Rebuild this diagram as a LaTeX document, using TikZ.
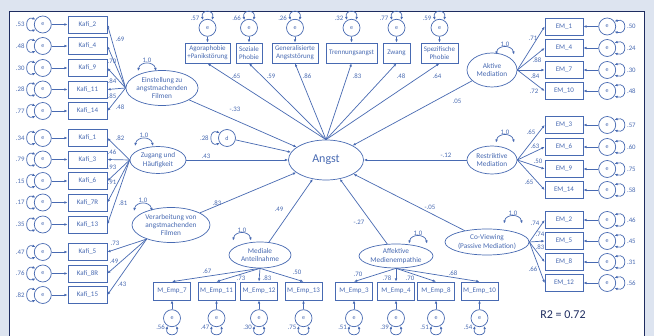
\documentclass[tikz,border=0pt]{standalone}
\usepackage{fontspec}
\setmainfont{Carlito}
\usetikzlibrary{shapes.geometric,arrows.meta,positioning}
\definecolor{semblue}{RGB}{72,106,178}
\definecolor{framenavy}{RGB}{30,44,96}
\definecolor{slidebg}{RGB}{221,228,240}
\tikzset{>={Latex[length=3.2pt,width=2.6pt]}}
\tikzset{
  ind/.style={draw,rectangle,align=center,minimum width=39pt,minimum height=17pt,inner sep=1pt,font=\fontsize{7}{8}\selectfont},
  err/.style={draw,circle,minimum size=17pt,inner sep=0pt,font=\fontsize{6}{7}\selectfont},
  lat/.style={draw,ellipse,align=center,inner sep=0pt,font=\fontsize{7.3}{8.2}\selectfont},
  lbl/.style={inner sep=0.5pt,font=\fontsize{6.8}{7}\selectfont},
}
% variance loop above a latent: node, x offset, y offset, label name
\newcommand{\latloop}[4]{%
  \draw[<->] ([shift={(#2-9,#3)}]#1.north) .. controls +(2,-10) and +(-2,-10) .. ([shift={(#2+9,#3)}]#1.north)
    node[lbl,midway,above] (#4) {1.0};%
}

\begin{document}
\begin{tikzpicture}[x=1pt,y=-1pt,color=semblue,line width=0.7pt]
\useasboundingbox (0,0) rectangle (654,336);
\fill[slidebg] (0,0) rectangle (654,336);
\draw[framenavy,fill=white,line width=1.6pt] (9.5,11.5) rectangle (644.5,345);

% latent variables
\node[lat,minimum width=69pt,minimum height=35pt] (F1) at (162,88) {Einstellung zu\\angstmachenden\\Filmen};
\node[lat,minimum width=56pt,minimum height=27pt] (Z) at (158,160) {Zugang und\\Häufigkeit};
\node[lat,minimum width=78pt,minimum height=35pt] (V) at (171,225) {Verarbeitung von\\angstmachenden\\Filmen};
\node[lat,minimum width=75pt,minimum height=40pt,font=\fontsize{12}{14}\selectfont] (A) at (326,160) {Angst};
\node[lat,minimum width=50pt,minimum height=34pt] (Ak) at (492,70) {Aktive\\Mediation};
\node[lat,minimum width=50pt,minimum height=28pt] (Re) at (492,160) {Restriktive\\Mediation};
\node[lat,minimum width=84pt,minimum height=26pt] (CV) at (487,242) {Co-Viewing\\(Passive Mediation)};
\node[lat,minimum width=62pt,minimum height=26pt] (Me) at (260,255) {Mediale\\Anteilnahme};
\node[lat,minimum width=74pt,minimum height=24pt] (Af) at (396,256) {Affektive\\Medienempathie};
\node[err] (d) at (227,138) {d};

\latloop{F1}{-15}{1}{vF1}
\latloop{Z}{-14}{0}{vZ}
\latloop{V}{-28}{4}{vV}
\latloop{Ak}{13}{2}{vAk}
\latloop{Re}{13}{-3}{vRe}
\latloop{CV}{26}{-5}{vCV}
\latloop{Me}{-18}{-1}{vMe}
\latloop{Af}{22}{0}{vAf}
\draw[<->] (d.145) .. controls +(-11,-4) and +(-11,4) .. (d.215) node[lbl,midway,anchor=east,xshift=-2pt] (vd) {.28};

% paths to Angst
\draw[->] (F1) -- (A);
\draw[->] (d) -- (A);
\draw[->] (Z) -- (A);
\draw[->] (V) -- (A);
\draw[->] (Me) -- (A);
\draw[->] (Af) -- (A);
\draw[->] (CV) -- (A);
\draw[->] (Re) -- (A);
\draw[->] (Ak) -- (A);
\node[lbl] (pF1) at (235,109) {-.33};
\node[lbl] (pZ) at (206,156) {.43};
\node[lbl] (pV) at (217,203) {.83};
\node[lbl] (pMe) at (279,209) {.49};
\node[lbl] (pAf) at (359,222) {-.27};
\node[lbl] (pCV) at (430,207) {-.05};
\node[lbl] (pRe) at (446,155) {-.12};
\node[lbl] (pAk) at (457,101) {.05};

% Kafi indicators
\foreach \nm/\txt/\yy/\vv/\lat/\ld/\lx/\ly in {
  k2/Kafi\_2/24.5/.53/F1.west/.69/120/39, k4/Kafi\_4/46/.48/F1.west/.70/112/61,
  k9/Kafi\_9/68/.30/F1.west/.84/112/81, k11/Kafi\_11/89.5/.28/F1.west/.85/112/96,
  k14/Kafi\_14/111/.77/F1.west/.48/120/107,
  k1/Kafi\_1/138/.34/Z.west/.82/120/138, k3/Kafi\_3/159.5/.79/Z.west/.46/112/152,
  k6/Kafi\_6/181/.15/Z.west/.93/112/167, k7/Kafi\_7R/202.5/.17/Z.west/.91/112/182,
  k13/Kafi\_13/224.5/.35/Z.west/.81/123/203,
  k5/Kafi\_5/252/.47/V.210/.73/115/243, k8/Kafi\_8R/273.5/.76/V.210/.49/114/261,
  k15/Kafi\_15/295/.82/V.210/.43/122/284}
{
  \node[ind] (\nm) at (87.5,\yy) {\txt};
  \node[err,left=16pt of \nm] (e\nm) {e};
  \draw[->] (e\nm) -- (\nm);
  \draw[<->] (e\nm.145) .. controls +(-11,-4) and +(-11,4) .. (e\nm.215) node[lbl,midway,anchor=east,xshift=-2pt] (v\nm) {\vv};
  \draw[->] (\lat) -- (\nm.east);
  \node[lbl] (l\nm) at (\lx,\ly) {\ld};
}

% EM indicators
\foreach \nm/\txt/\yy/\vv/\lat/\ld/\lx/\ly in {
  em1/EM\_1/26.5/.50/Ak.east/.71/533/38, em4/EM\_4/48/.24/Ak.east/.88/537/60,
  em7/EM\_7/70/.30/Ak.east/.84/535/76, em10/EM\_10/91/.48/Ak.east/.72/534/91,
  em3/EM\_3/125/.57/Re.east/.65/531/132, em6/EM\_6/147/.60/Re.east/.63/535/146,
  em9/EM\_9/169/.75/Re.east/.50/538/161, em14/EM\_14/190/.58/Re.east/.65/529/182,
  em2/EM\_2/220/.46/CV.east/.74/535/223, em5/EM\_5/241/.45/CV.east/.74/540/234,
  em8/EM\_8/262/.31/CV.east/.83/540/247, em12/EM\_12/283/.56/CV.east/.66/533/269}
{
  \node[ind,minimum width=38pt] (\nm) at (564,\yy) {\txt};
  \node[err,right=15pt of \nm] (e\nm) {e};
  \draw[->] (e\nm) -- (\nm);
  \draw[<->] (e\nm.35) .. controls +(13,-4) and +(13,4) .. (e\nm.-35) node[lbl,midway,anchor=west,xshift=2pt] (v\nm) {\vv};
  \draw[->] (\lat) -- (\nm.west);
  \node[lbl] (l\nm) at (\lx,\ly) {\ld};
}

% Angst indicators
\foreach \nm/\txt/\xx/\ww/\vv/\ld/\lx in {
  ago/Agoraphobie\\+Panikstörung/207.5/45/.57/.65/236, soz/Soziale\\Phobie/249/26/.66/.59/271,
  gen/Generalisierte\\Angststörung/295/46/.26/.86/307, tre/Trennungsangst/351.5/51/.32/.83/357,
  zwa/Zwang/396.5/27/.77/.48/401, spe/Spezifische\\Phobie/439.5/37/.59/.64/437}
{
  \node[ind,minimum width=\ww pt,minimum height=20pt] (\nm) at (\xx,53) {\txt};
  \node[err,above=6pt of \nm] (e\nm) {e};
  \draw[->] (e\nm) -- (\nm);
  \draw[<->] (e\nm.120) .. controls +(-3,-11) and +(3,-11) .. (e\nm.60);
  \node[lbl,anchor=south east] (v\nm) at ([xshift=-1pt]e\nm.north west) {\vv};
  \draw[->] (A.north) -- (\nm.south);
  \node[lbl] (l\nm) at (\lx,76) {\ld};
}

% M_Emp indicators
\foreach \nm/\txt/\xx/\vv/\lat/\ld/\lx/\ly in {
  m7/M\_Emp\_7/172/.56/Me/.67/207/271, m11/M\_Emp\_11/216.5/.47/Me/.73/241/278,
  m12/M\_Emp\_12/259/.30/Me/.83/267/278, m13/M\_Emp\_13/303.5/.75/Me/.50/297/272,
  m3/M\_Emp\_3/354/.51/Af/.70/358/274, m4/M\_Emp\_4/396/.39/Af/.78/387/278,
  m8/M\_Emp\_8/436/.51/Af/.70/410/278, m10/M\_Emp\_10/479.5/.54/Af/.68/453/273}
{
  \node[ind,minimum width=37pt,minimum height=18pt] (\nm) at (\xx,291) {\txt};
  \node[err,below=9pt of \nm] (e\nm) {e};
  \draw[->] (e\nm) -- (\nm);
  \draw[<->] (e\nm.240) .. controls +(-3,11) and +(3,11) .. (e\nm.300);
  \node[lbl,anchor=north east] (v\nm) at (e\nm.south west) {\vv};
  \draw[->] (\lat.south) -- (\nm.north);
  \node[lbl] (l\nm) at (\lx,\ly) {\ld};
}

\node[font=\fontsize{12}{14}\selectfont,text=framenavy] (r2) at (563,315) {R2 = 0.72};
\end{tikzpicture}
\end{document}
